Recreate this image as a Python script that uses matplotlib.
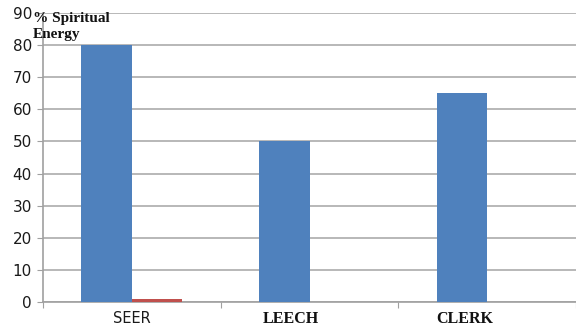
import matplotlib
matplotlib.use("Agg")
import matplotlib.pyplot as plt
import matplotlib.transforms as mtransforms
import numpy as np

categories = ["SEER", "LEECH", "CLERK"]
series_blue = [80, 50, 65]
series_red = [1, 0, 0]
y_ticks = [0, 10, 20, 30, 40, 50, 60, 70, 80, 90]

# horizontal nudge of each category label (data units)
label_shift = [0.0, -0.104, -0.128]

BLUE = "#4F81BD"
RED = "#C0504D"
GRID = "#B8B8B8"
SPINE = "#A0A0A0"

fig = plt.figure(figsize=(5.76, 3.28), dpi=100)
ax = fig.add_axes([43 / 576, 1 - 302 / 328, 533 / 576, 289 / 328])

x = np.arange(len(categories))
width = 0.285
ax.bar(x - width / 2, series_blue, width, color=BLUE, zorder=3)
ax.bar(x + width / 2, series_red, width, color=RED, zorder=3)

ax.set_xlim(-0.5, 2.5)
ax.set_ylim(0, 90)
ax.set_yticks(y_ticks)
ax.yaxis.grid(True, color=GRID, linewidth=1.4, zorder=0)
ax.tick_params(axis="y", length=4, color=SPINE, labelsize=11, pad=4,
               labelcolor="#1a1a1a")

# category separators on the x axis
ax.set_xticks([-0.5, 0.5, 1.5, 2.5])
ax.set_xticklabels([])
ax.tick_params(axis="x", length=4, color=SPINE)

trans = mtransforms.blended_transform_factory(ax.transData, ax.transAxes)
for i, name in enumerate(categories):
    if i == 0:
        style = dict(fontfamily="DejaVu Sans", fontsize=10.5, color="#1a1a1a")
    else:
        style = dict(fontfamily="Liberation Serif", fontweight="bold",
                     fontsize=11.5, color="#111111")
    ax.text(x[i] + label_shift[i], -0.03, name, transform=trans,
            ha="center", va="top", **style)

for side in ["top", "right"]:
    ax.spines[side].set_visible(False)
for side in ["left", "bottom"]:
    ax.spines[side].set_color(SPINE)
    ax.spines[side].set_linewidth(1.2)

fig.text(33 / 576, 1 - 12 / 328, "% Spiritual\nEnergy", fontfamily="Liberation Serif",
         fontweight="bold", fontsize=11, va="top", ha="left", linespacing=1.3,
         color="#111111")

fig.savefig("out.png", dpi=100)
